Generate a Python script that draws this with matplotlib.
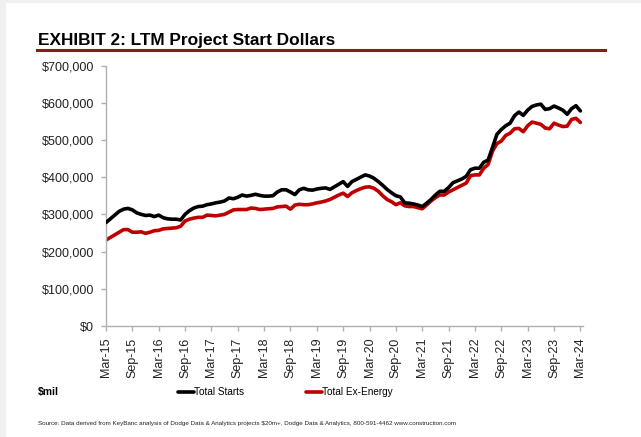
import matplotlib
matplotlib.use("Agg")
import matplotlib.pyplot as plt
from matplotlib.patches import Rectangle
from matplotlib.lines import Line2D

# ---- data (LTM project start dollars, $mil), monthly Mar-15 .. Mar-24 ----
total_starts = [
    278, 288, 298, 308, 314, 316, 312, 304, 300, 297, 298, 294,
    298, 291, 288, 287, 287, 285, 300, 310, 317, 321, 322, 326,
    328, 331, 333, 336, 344, 342, 346, 352, 349, 351, 354, 351,
    349, 349, 350, 360, 366, 366, 360, 353, 366, 370, 366, 365,
    368, 370, 371, 367, 374, 381, 388, 375, 388, 394, 400, 406,
    403, 397, 388, 378, 367, 358, 350, 347, 331, 330, 328, 325,
    321, 330, 340, 352, 362, 362, 372, 385, 390, 395, 402, 420,
    424, 424, 440, 446, 480, 515, 528, 538, 545, 565, 575, 566,
    580, 590, 594, 596, 582, 584, 591, 586, 580, 569, 584, 592,
    578,
]
total_ex_energy = [
    231, 238, 245, 252, 259, 259, 252, 252, 253, 249, 252, 256,
    257, 261, 262, 263, 264, 268, 282, 287, 290, 292, 292, 298,
    297, 296, 298, 300, 306, 312, 313, 313, 313, 317, 316, 313,
    314, 315, 316, 320, 321, 322, 314, 325, 327, 326, 326, 328,
    331, 333, 336, 340, 346, 352, 357, 348, 358, 364, 369, 373,
    374, 370, 362, 350, 340, 334, 326, 331, 323, 321, 321, 318,
    315, 325, 336, 345, 352, 352, 360, 366, 372, 378, 384, 404,
    406, 406, 424, 434, 470, 490, 497, 512, 518, 530, 531, 522,
    538, 548, 545, 542, 532, 530, 545, 540, 536, 537, 555, 558,
    547,
]
tick_labels = ["Mar-15", "Sep-15", "Mar-16", "Sep-16", "Mar-17", "Sep-17",
               "Mar-18", "Sep-18", "Mar-19", "Sep-19", "Mar-20", "Sep-20",
               "Mar-21", "Sep-21", "Mar-22", "Sep-22", "Mar-23", "Sep-23",
               "Mar-24"]
y_ticks = [0, 100000, 200000, 300000, 400000, 500000, 600000, 700000]

NARROW = ["Liberation Sans Narrow", "Liberation Sans", "DejaVu Sans"]
SANS = ["Liberation Sans", "DejaVu Sans"]

W, H = 641, 437
fig = plt.figure(figsize=(W / 100, H / 100), dpi=100)
fig.patch.set_facecolor("#f0f0f0")
fig.patches.append(Rectangle((6 / W, 0), 1, 1 - 3 / H, transform=fig.transFigure,
                             facecolor="white", edgecolor="none", zorder=-10))

ax = fig.add_axes([106 / W, 1 - 326 / H, (583 - 106) / W, (326 - 65.5) / H])
ax.set_zorder(5)
ax.set_facecolor("none")

x = list(range(len(total_starts)))
ys = [v * 1000 for v in total_starts]
yr = [v * 1000 for v in total_ex_energy]
ax.plot(x, ys, color="black", lw=2.6, solid_capstyle="round", label="Total Starts", zorder=3)
ax.plot(x, yr, color="#c00000", lw=2.6, solid_capstyle="round", label="Total Ex-Energy", zorder=2)

ax.set_xlim(0, 108.6)
ax.set_ylim(0, 700000)
ax.set_yticks(y_ticks)
ax.set_yticklabels(["$0" if v == 0 else "${:,}".format(v) for v in y_ticks],
                   fontfamily=SANS, fontsize=9, color="#222222")
ax.set_xticks(list(range(0, 109, 6)))
ax.set_xticklabels(tick_labels, rotation=90, fontfamily=SANS, fontsize=9, color="#222222")

for s in ["top", "right"]:
    ax.spines[s].set_visible(False)
for s in ["left", "bottom"]:
    ax.spines[s].set_color("#b0b0b0")
    ax.spines[s].set_linewidth(1.0)
ax.tick_params(axis="both", colors="#b0b0b0", length=3.5, width=1.0, labelcolor="#222222")
ax.tick_params(axis="y", pad=5)
ax.tick_params(axis="x", pad=5)

# title and rule
fig.text(38 / W, 1 - 40 / H, "EXHIBIT 2: LTM Project Start Dollars", fontfamily=NARROW,
         fontweight="bold", fontsize=12.4, va="center", ha="left", color="black")
fig.lines.append(Line2D([37 / W, 605 / W], [1 - 50 / H, 1 - 50 / H], transform=fig.transFigure,
                        color="#8b1a1a", lw=2.2))

# legend
fig.text(38 / W, 1 - 392 / H, "$mil", fontfamily=NARROW, fontweight="bold", fontsize=7.5,
         va="center", ha="left")
leg = fig.legend(loc="center left", bbox_to_anchor=(178 / W, 1 - 392 / H), ncol=2,
                 frameon=False, handlelength=1.6, handletextpad=0.0, columnspacing=6.2,
                 prop={"family": NARROW, "size": 7.2}, borderaxespad=0, borderpad=0)

fig.text(38 / W, 1 - 423 / H,
         "Source: Data derived from KeyBanc analysis of Dodge Data & Analytics projects $20m+, "
         "Dodge Data & Analytics, 800-591-4462 www.construction.com",
         fontfamily=NARROW, fontsize=4.5, va="center", ha="left", color="#222222")

fig.savefig("out.png", dpi=100, facecolor=fig.get_facecolor())
